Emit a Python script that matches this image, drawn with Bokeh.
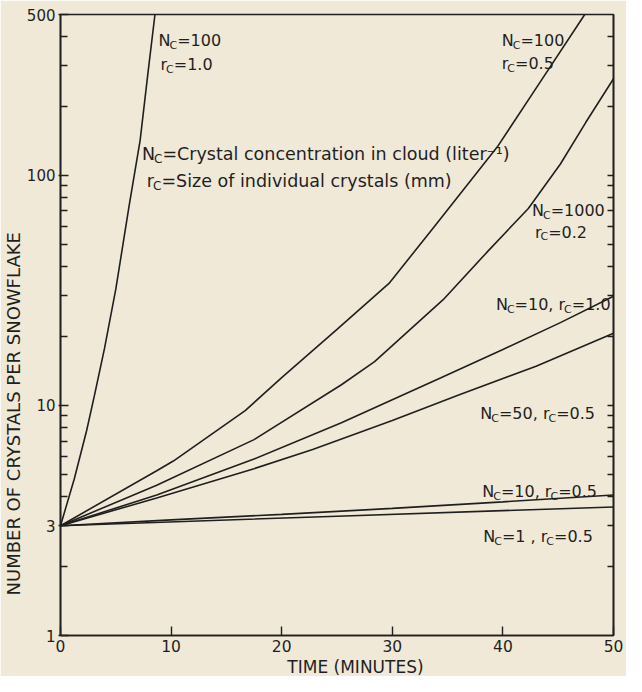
import math
from bokeh.plotting import figure
from bokeh.models import FixedTicker, LogAxis, Label, BasicTickFormatter, Title
from bokeh.embed import file_html
from bokeh.resources import INLINE

# ---------------- data ----------------
X_TICKS = [0, 10, 20, 30, 40, 50]
Y_TICKS = [1, 3, 10, 100, 500]
Y_MINOR = [2, 4, 5, 6, 7, 8, 9, 20, 30, 40, 50, 60, 70, 80, 90, 200, 300, 400]

# Nc=100, rc=1.0
T_A = [0, 1.25, 2.37, 3.06, 3.97, 5.0, 6.21, 7.2, 7.88, 8.54]
V_A = [3, 4.8, 7.8, 11.0, 17.6, 32, 74, 142, 271, 500]
# Nc=100, rc=0.5
T_B = [0, 8.7, 10.2, 16.7, 20, 25, 29.7, 33.7, 39.5, 43.5, 47.4]
V_B = [3, 5.2, 5.73, 9.5, 13.2, 21.4, 33.9, 59, 133, 260, 500]
# Nc=1000, rc=0.2
T_C = [0, 8.7, 17.5, 25.4, 28.4, 34.6, 38.5, 42.3, 45.2, 47.5, 50]
V_C = [3, 4.5, 7.1, 12.3, 15.5, 28.8, 46, 71.8, 112, 170, 263]
# Nc=10, rc=1.0
T_D = [0, 8.7, 17.5, 25.4, 34.4, 40, 45.2, 50]
V_D = [3, 4.08, 5.85, 8.4, 13.2, 17.5, 22.9, 29.8]
# Nc=50, rc=0.5
T_E = [0, 8.7, 17.5, 22.8, 30, 36, 43, 50]
V_E = [3, 3.96, 5.31, 6.44, 8.6, 11.1, 14.8, 20.6]
# Nc=10, rc=0.5
T_F = [0, 10, 20, 30, 40, 50]
V_F = [3, 3.18, 3.36, 3.57, 3.81, 4.08]
# Nc=1, rc=0.5
T_G = [0, 25, 50]
V_G = [3, 3.3, 3.62]

SERIES = [(T_A, V_A), (T_B, V_B), (T_C, V_C), (T_D, V_D),
          (T_E, V_E), (T_F, V_F), (T_G, V_G)]

# ---------------- style / layout ----------------
BG = "#f0e9d7"
INK = "#1f1f1f"
FONT = "DejaVu Sans"

FIG_W, FIG_H = 626, 676
SX, SY = FIG_W / 642.0, FIG_H / 692.0      # reference -> figure scale
FRAME_L, FRAME_R, FRAME_T, FRAME_B = 58, 613, 14, 635

p = figure(width=FIG_W, height=FIG_H, x_range=(0, 50), y_range=(1, 500),
           y_axis_type="log", output_backend="svg", toolbar_location=None,
           min_border_left=FRAME_L, min_border_right=FIG_W - FRAME_R,
           min_border_top=FRAME_T, min_border_bottom=FIG_H - FRAME_B)
p.grid.visible = False
p.background_fill_color = BG
p.border_fill_color = BG
p.outline_line_color = INK
p.outline_line_width = 1.6

# x axis
xa = p.xaxis[0]
xa.ticker = FixedTicker(ticks=X_TICKS)
xa.formatter = BasicTickFormatter()
xa.major_tick_in = 9
xa.major_tick_out = 0
xa.minor_tick_in = 0
xa.minor_tick_out = 0
xa.axis_line_color = INK
xa.axis_line_width = 1.6
xa.major_tick_line_color = INK
xa.major_tick_line_width = 1.4
xa.major_label_text_font = FONT
xa.major_label_text_font_size = "15.5px"
xa.major_label_text_color = INK
xa.major_label_standoff = 4

# y axis (left)
ya = p.yaxis[0]
ya.ticker = FixedTicker(ticks=Y_TICKS, minor_ticks=Y_MINOR)
ya.formatter = BasicTickFormatter()
ya.major_tick_in = 8
ya.major_tick_out = 2
ya.minor_tick_in = 7
ya.minor_tick_out = 0
ya.axis_line_color = INK
ya.axis_line_width = 1.6
ya.major_tick_line_color = INK
ya.major_tick_line_width = 1.4
ya.minor_tick_line_color = INK
ya.minor_tick_line_width = 1.4
ya.major_label_text_font = FONT
ya.major_label_text_font_size = "15px"
ya.major_label_text_color = INK
ya.major_label_standoff = 3

# right axis: ticks only
ra = LogAxis(ticker=FixedTicker(ticks=[], minor_ticks=sorted(Y_MINOR + [3, 10, 100])),
             major_tick_in=0, major_tick_out=0, minor_tick_in=6, minor_tick_out=0,
             axis_line_color=INK, axis_line_width=1.6,
             minor_tick_line_color=INK, minor_tick_line_width=1.4,
             major_label_text_font_size="0px")
p.add_layout(ra, "right")

for t, v in SERIES:
    p.line(t, v, line_color=INK, line_width=1.6)

# ---------------- text ----------------
W = {'N': 1532, 'C': 1430, '=': 1716, ',': 651, ' ': 651, '.': 651, 'r': 842}
for d in "0123456789":
    W[d] = 1303
W_TITLE = {'T': 1251, 'I': 604, 'M': 1767, 'E': 1294, ' ': 651, '(': 799, ')': 799,
           'N': 1532, 'U': 1499, 'S': 1300, 'B': 1405, 'R': 1423, 'O': 1612,
           'F': 1178, 'C': 1430, 'Y': 1251, 'A': 1401, 'L': 1141, 'P': 1235,
           'W': 2025, 'K': 1343}


def tw(s, size, table=W):
    return sum(table.get(ch, 1200) for ch in s) / 2048.0 * size


def put(rx, ry, text, size, align="left", baseline="alphabetic"):
    """rx, ry: position measured on the reference picture (642x692)."""
    fx, fy = rx * SX, ry * SY
    p.add_layout(Label(x=fx - FRAME_L, y=FRAME_B - fy,
                       x_units="screen", y_units="screen", text=text,
                       text_font=FONT, text_font_size=f"{size}px",
                       text_color=INK, text_align=align,
                       text_baseline=baseline))


def rich(rx, ry, segs, size=16, sub=11):
    x = rx
    for txt, is_sub in segs:
        if is_sub:
            x -= 1
            put(x, ry + 5, txt, sub)
            x += tw(txt, sub) / SX
        else:
            put(x, ry, txt, size)
            x += tw(txt, size) / SX


# curve labels
rich(160, 41, [("N", False), ("C", True), ("=100", False)])
rich(162, 66, [("r", False), ("C", True), ("=1.0", False)])
rich(512, 41, [("N", False), ("C", True), ("=100", False)])
rich(512, 65, [("r", False), ("C", True), ("=0.5", False)])
rich(543, 215, [("N", False), ("C", True), ("=1000", False)])
rich(546, 237, [("r", False), ("C", True), ("=0.2", False)])
rich(506, 311, [("N", False), ("C", True), ("=10, r", False), ("C", True), ("=1.0", False)])
rich(490, 423, [("N", False), ("C", True), ("=50, r", False), ("C", True), ("=0.5", False)])
rich(492, 503, [("N", False), ("C", True), ("=10, r", False), ("C", True), ("=0.5", False)])
rich(493, 549, [("N", False), ("C", True), ("=1 , r", False), ("C", True), ("=0.5", False)])

# definitions
rich(143, 157, [("N", False), ("C", True), ("=Crystal concentration in cloud (liter\u207b\u00b9)", False)],
     size=17.5, sub=12)
rich(148, 185, [("r", False), ("C", True), ("=Size of individual crystals (mm)", False)],
     size=17.5, sub=12)

# axis titles (side titles, placed along the frame as in the reference)
X_TITLE = "TIME (MINUTES)"
Y_TITLE = "NUMBER OF CRYSTALS PER SNOWFLAKE"
XT_SIZE, YT_SIZE = 17, 18
x_start = 362 * SX - tw(X_TITLE, XT_SIZE, W_TITLE) / 2.0
p.add_layout(Title(text=X_TITLE, align="left", offset=x_start - FRAME_L, standoff=0,
                   text_font=FONT, text_font_size=f"{XT_SIZE}px",
                   text_font_style="normal", text_color=INK), "below")
y_start = 422 * SY + tw(Y_TITLE, YT_SIZE, W_TITLE) / 2.0
p.add_layout(Title(text=Y_TITLE, align="left", offset=FRAME_B - y_start, standoff=0,
                   text_font=FONT, text_font_size=f"{YT_SIZE}px",
                   text_font_style="normal", text_color=INK), "left")

open("out.html", "w").write(file_html(p, INLINE))
